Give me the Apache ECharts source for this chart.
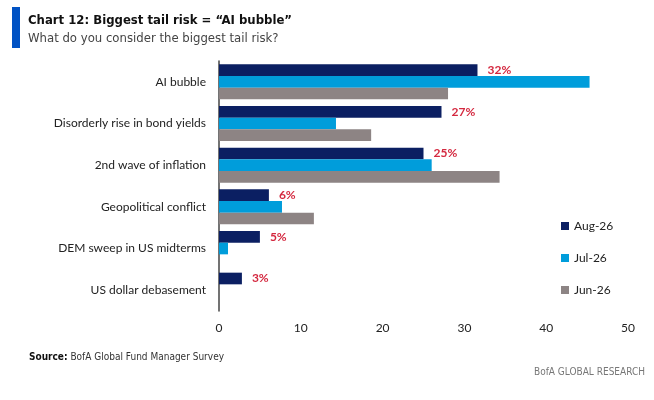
<!DOCTYPE html>
<html>
<head>
<meta charset="utf-8">
<script src="https://cdn.jsdelivr.net/npm/echarts@6/dist/echarts.min.js"></script>
<style>
  html, body, #main { width: 100%; height: 100%; margin: 0; background: #fff; }
</style>
</head>
<body>
<div id="main"></div>
<script>
var categories = [
  'AI bubble',
  'Disorderly rise in bond yields',
  '2nd wave of inflation',
  'Geopolitical conflict',
  'DEM sweep in US midterms',
  'US dollar debasement'
];
var aug26 = [31.6, 27.2, 25, 6.1, 5, 2.8];
var jul26 = [45.3, 14.3, 26, 7.7, 1.1, null];
var jun26 = [28, 18.6, 34.3, 11.6, null, null];
var xTicks = [0, 10, 20, 30, 40, 50];

var NARROW = "'Liberation Sans Narrow', 'DejaVu Sans Condensed', sans-serif";
var BODY = "Lato, 'Noto Sans', sans-serif";

var chart = echarts.init(document.getElementById('main'));

var option = {
  animation: false,
  backgroundColor: '#fff',
  textStyle: { fontFamily: BODY },
  title: [{
    text: 'Chart 12: Biggest tail risk = \u201cAI bubble\u201d',
    left: 23,
    top: 9,
    textStyle: { fontFamily: NARROW, fontSize: 13, fontWeight: 'bold', color: '#111' }
  }, {
    text: 'What do you consider the biggest tail risk?',
    left: 23,
    top: 27,
    textStyle: { fontFamily: NARROW, fontSize: 13, fontWeight: 'normal', color: '#444' }
  }, {
    text: '{b|Source:} BofA Global Fund Manager Survey',
    left: 24,
    top: 347,
    textStyle: {
      fontFamily: NARROW, fontSize: 10, fontWeight: 'normal', color: '#333',
      rich: { b: { fontFamily: NARROW, fontSize: 10, fontWeight: 'bold', color: '#111' } }
    }
  }, {
    text: 'BofA GLOBAL RESEARCH',
    right: 4,
    top: 362,
    textStyle: { fontFamily: NARROW, fontSize: 10, fontWeight: 'normal', color: '#777' }
  }],
  graphic: [{
    type: 'rect',
    shape: { x: 12, y: 7, width: 8, height: 41 },
    style: { fill: '#0052c4' }
  }],
  legend: {
    orient: 'vertical',
    left: 556,
    top: 215,
    icon: 'rect',
    itemWidth: 8,
    itemHeight: 8,
    itemGap: 20,
    textStyle: { fontFamily: BODY, fontSize: 12, color: '#222' },
    data: ['Aug-26', 'Jul-26', 'Jun-26']
  },
  grid: { left: 219, right: 26, top: 61, bottom: 89 },
  xAxis: {
    type: 'value',
    min: 0,
    max: 50,
    interval: 10,
    splitLine: { show: false },
    axisLine: { show: false },
    axisTick: { show: false },
    axisLabel: {
      margin: 11,
      color: '#222',
      fontSize: 12,
      fontFamily: BODY,
      formatter: function (v) { return xTicks.indexOf(v) >= 0 ? String(v) : ''; }
    }
  },
  yAxis: {
    type: 'category',
    inverse: true,
    data: categories,
    axisLine: { show: true, lineStyle: { color: '#444', width: 1.5 } },
    axisTick: { show: false },
    axisLabel: { margin: 13, color: '#222', fontSize: 12, fontFamily: BODY }
  },
  series: [{
    name: 'Aug-26',
    type: 'bar',
    data: aug26,
    barGap: '0%',
    barCategoryGap: '16%',
    itemStyle: { color: '#0b1f62' },
    label: {
      show: true,
      position: 'right',
      distance: 10,
      color: '#d4283f',
      fontWeight: 'bold',
      fontSize: 12,
      fontFamily: BODY,
      formatter: function (p) { return Math.round(p.value) + '%'; }
    }
  }, {
    name: 'Jul-26',
    type: 'bar',
    data: jul26,
    barGap: '0%',
    barCategoryGap: '16%',
    itemStyle: { color: '#009ddb' }
  }, {
    name: 'Jun-26',
    type: 'bar',
    data: jun26,
    barGap: '0%',
    barCategoryGap: '16%',
    itemStyle: { color: '#8d8484' }
  }]
};

chart.setOption(option);
</script>
</body>
</html>
